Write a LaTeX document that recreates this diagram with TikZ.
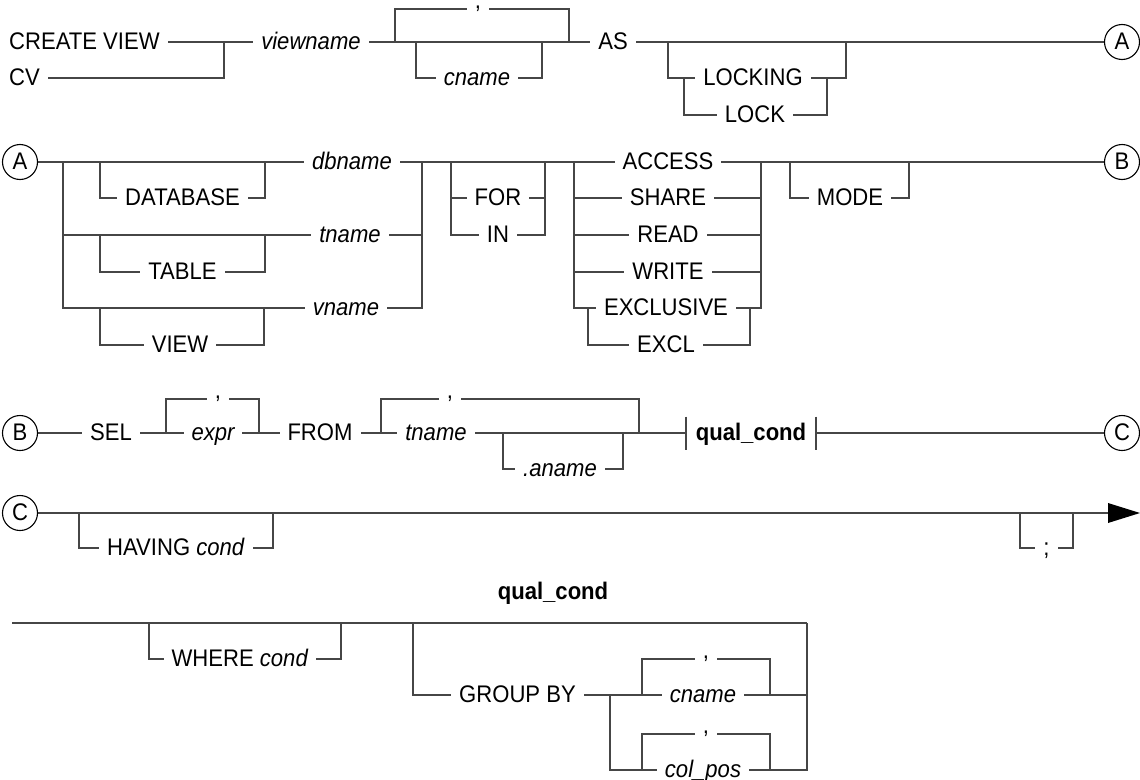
\documentclass[tikz,border=0pt]{standalone}
\usepackage{fontspec}
\setmainfont{Liberation Sans}[FakeStretch=0.92]
\usetikzlibrary{backgrounds}
\definecolor{lc}{RGB}{70,70,70}
\newcommand\rrf{\fontsize{24}{28}\selectfont}
\begin{document}
\begin{tikzpicture}[x=1pt,y=-1pt,
  every node/.style={font=\rrf},
  rrline/.style={draw=lc, line width=1.3pt},
  kwbox/.style={fill=white, inner xsep=8pt, inner ysep=2pt, text height=14pt, text depth=0pt},
  varbox/.style={kwbox, font=\rrf\itshape},
  commabox/.style={fill=white, inner xsep=8pt, inner ysep=1pt, text height=6pt, text depth=4pt, anchor=base},
  connbox/.style={circle, draw=black, line width=1.1pt, minimum size=35pt, inner sep=0pt, fill=white, text height=14pt, text depth=0pt},
]
\useasboundingbox (0,0) rectangle (1140,779);

% ---------- Row 1 ----------
\node[kwbox,anchor=west] (cv1) at (1,42) {CREATE VIEW};
\node[kwbox,anchor=west] (cv2) at (1,78) {CV};
\node[varbox] (viewname) at (311,42) {viewname};
\node[commabox] (c1) at (478,9) {,};
\node[varbox] (cname1) at (477,78) {cname};
\node[kwbox] (as) at (613,42) {AS};
\node[kwbox] (locking) at (753,78) {LOCKING};
\node[kwbox] (lock) at (755,115) {LOCK};
\node[connbox] (ca1) at (1122,42) {A};

% ---------- Row 2 ----------
\node[connbox] (ca2) at (20,162) {A};
\node[kwbox] (database) at (182.5,198) {DATABASE};
\node[varbox] (dbname) at (352,162) {dbname};
\node[kwbox] (table) at (182.5,272) {TABLE};
\node[varbox] (tname1) at (350,235) {tname};
\node[kwbox] (view) at (180,345) {VIEW};
\node[varbox] (vname) at (346,308) {vname};
\node[kwbox] (for) at (498,198) {FOR};
\node[kwbox] (in) at (498,235) {IN};
\node[kwbox] (access) at (668,162) {ACCESS};
\node[kwbox] (share) at (668,198) {SHARE};
\node[kwbox] (read) at (668,235) {READ};
\node[kwbox] (write) at (668,272) {WRITE};
\node[kwbox] (exclusive) at (666,308) {EXCLUSIVE};
\node[kwbox] (excl) at (666,345) {EXCL};
\node[kwbox] (mode) at (850,198) {MODE};
\node[connbox] (cb1) at (1122,162) {B};

% ---------- Row 3 ----------
\node[connbox] (cb2) at (20,433) {B};
\node[kwbox] (sel) at (111,433) {SEL};
\node[varbox] (expr) at (213,433) {expr};
\node[commabox] (c2) at (218,398.5) {,};
\node[kwbox] (from) at (320,433) {FROM};
\node[varbox] (tname2) at (436,433) {tname};
\node[commabox] (c3) at (450,398.5) {,};
\node[varbox] (aname) at (560,469) {.aname};
\node[font=\rrf\bfseries, inner xsep=9.5pt, text height=14pt, text depth=0pt] (qc) at (751,433) {qual\_cond};
\node[connbox] (cc1) at (1122,433) {C};

% ---------- Row 4 ----------
\node[connbox] (cc2) at (20,513) {C};
\node[kwbox] (having) at (176,548) {HAVING \textit{cond}};
\node[kwbox] (semi) at (1046.5,548) {;};
\coordinate (end) at (1140,513);

% ---------- qual_cond ----------
\node[font=\rrf\bfseries] (title) at (553,593) {qual\_cond};
\node[kwbox] (where) at (240,659) {WHERE \textit{cond}};
\node[kwbox] (groupby) at (517.5,695) {GROUP BY};
\node[varbox] (cname2) at (703,695) {cname};
\node[commabox] (c4) at (706,658.5) {,};
\node[varbox] (colpos) at (703,770) {col\_pos};
\node[commabox] (c5) at (706,733.5) {,};

\begin{pgfonlayer}{background}
% Row 1
\draw[rrline] (cv1.east) -- (ca1);
\draw[rrline] (cv2.east) -- (224,78) -- (224,42);
\draw[rrline] (395,42) -- (395,9) -- (569,9) -- (569,42);
\draw[rrline] (416,42) -- (416,78) -- (542,78) -- (542,42);
\draw[rrline] (668,42) -- (668,78) -- (846,78) -- (846,42);
\draw[rrline] (684,78) -- (684,115) -- (827,115) -- (827,78);
% Row 2
\draw[rrline] (ca2) -- (cb1);
\draw[rrline] (63,162) -- (63,308) -- (422,308) -- (422,162);
\draw[rrline] (63,235) -- (422,235);
\draw[rrline] (100,162) -- (100,198) -- (265,198) -- (265,162);
\draw[rrline] (100,235) -- (100,272) -- (265,272) -- (265,235);
\draw[rrline] (100,308) -- (100,345) -- (264,345) -- (264,308);
\draw[rrline] (451,162) -- (451,235) -- (545,235) -- (545,162);
\draw[rrline] (451,198) -- (545,198);
\draw[rrline] (574,162) -- (574,308) -- (761,308) -- (761,162);
\draw[rrline] (574,198) -- (761,198);
\draw[rrline] (574,235) -- (761,235);
\draw[rrline] (574,272) -- (761,272);
\draw[rrline] (588,308) -- (588,345) -- (750,345) -- (750,308);
\draw[rrline] (790,162) -- (790,198) -- (909,198) -- (909,162);
% Row 3
\draw[rrline] (cb2) -- (qc.west);
\draw[rrline] (qc.east) -- (cc1);
\draw[rrline] (qc.west) ++(0,-16.5) -- ++(0,33);
\draw[rrline] (qc.east) ++(0,-16.5) -- ++(0,33);
\draw[rrline] (166,433) -- (166,399) -- (259,399) -- (259,433);
\draw[rrline] (381,433) -- (381,399) -- (639,399) -- (639,433);
\draw[rrline] (503,433) -- (503,469) -- (623,469) -- (623,433);
% Row 4
\draw[rrline] (cc2) -- (1110,513);
\draw[rrline] (79,513) -- (79,548) -- (273,548) -- (273,513);
\draw[rrline] (1020,513) -- (1020,548) -- (1073,548) -- (1073,513);
% qual_cond
\draw[rrline] (12,623) -- (807,623);
\draw[rrline] (149,623) -- (149,659) -- (341,659) -- (341,623);
\draw[rrline] (413,623) -- (413,695) -- (807,695);
\draw[rrline] (807,623) -- (807,770) -- (610,770) -- (610,695);
\draw[rrline] (642,695) -- (642,659) -- (770,659) -- (770,695);
\draw[rrline] (642,770) -- (642,734) -- (770,734) -- (770,770);
\end{pgfonlayer}
\fill[black] (1108,503) -- (end) -- (1108,523) -- cycle;
\end{tikzpicture}
\end{document}
